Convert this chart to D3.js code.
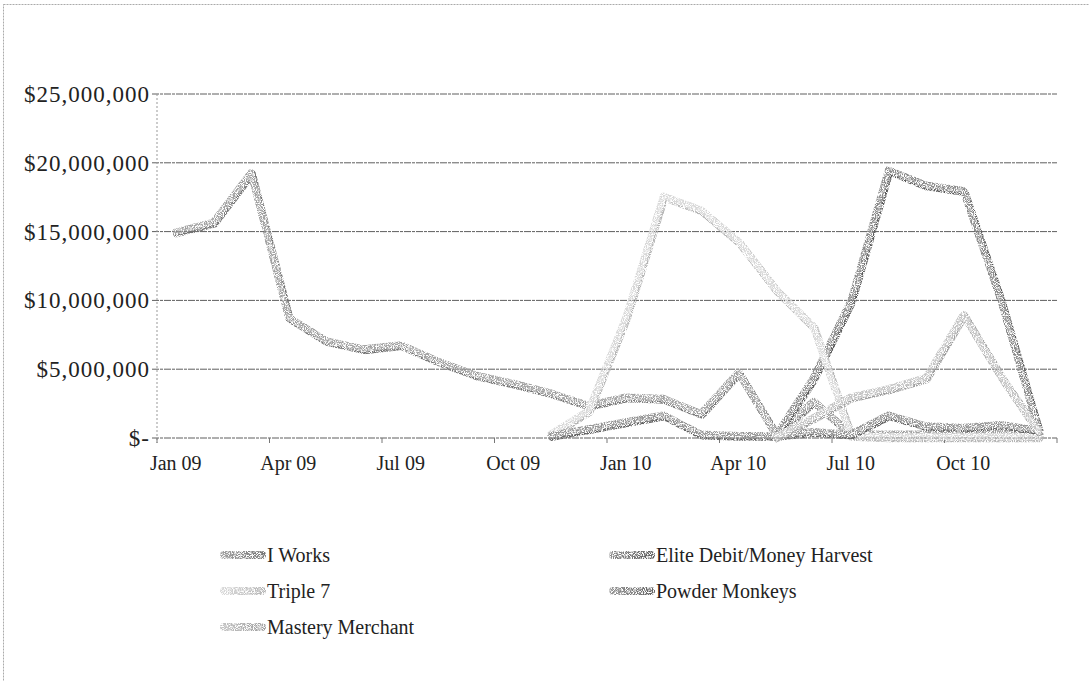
<!DOCTYPE html>
<html>
<head>
<meta charset="utf-8">
<script src="https://cdn.jsdelivr.net/npm/d3@7"></script>
<style>
  body { margin: 0; background: #fff; }
  svg { display: block; }
  text { font-family: "Liberation Serif", "DejaVu Serif", serif; fill: #222; }
</style>
</head>
<body>
<svg id="chart"></svg>
<script>
// months on the category axis
var months = ["Jan 09","Feb 09","Mar 09","Apr 09","May 09","Jun 09","Jul 09","Aug 09","Sep 09","Oct 09","Nov 09","Dec 09",
              "Jan 10","Feb 10","Mar 10","Apr 10","May 10","Jun 10","Jul 10","Aug 10","Sep 10","Oct 10","Nov 10","Dec 10"];
var tickLabels = ["Jan 09","Apr 09","Jul 09","Oct 09","Jan 10","Apr 10","Jul 10","Oct 10"];
var yTicks = [0, 5000000, 10000000, 15000000, 20000000, 25000000];

// values in millions, null = no data
var iWorks      = [15.0,15.7,19.3,8.8,7.1,6.5,6.8,5.6,4.6,4.0,3.3,2.4, 3.0,2.9,1.8,4.8,0.3,2.7,0.3,0.3,0.3,0.4,0.4,0.3];
var eliteDebit  = [null,null,null,null,null,null,null,null,null,null,null,null, null,null,null,null,0.2,4.4,10.0,19.5,18.4,18.0,10.0,0.6];
var triple7     = [null,null,null,null,null,null,null,null,null,null,0.3,2.0, 8.8,17.6,16.6,14.3,10.8,8.1,0.2,0.1,0.1,0.1,0.1,0.1];
var powderMonk  = [null,null,null,null,null,null,null,null,null,null,0.2,0.7, 1.2,1.7,0.3,0.2,0.2,0.5,0.3,1.7,0.9,0.8,1.0,0.6];
var mastery     = [null,null,null,null,null,null,null,null,null,null,null,null, null,null,null,null,0.1,1.5,3.0,3.6,4.4,9.0,4.5,0.5];

var seriesNames  = ["I Works","Elite Debit/Money Harvest","Triple 7","Powder Monkeys","Mastery Merchant"];
var seriesValues = [iWorks, eliteDebit, triple7, powderMonk, mastery];
var seriesFill   = ["#a2a2a2","#8c8c8c","#d8d8d8","#959595","#c4c4c4"];
var seriesEdge   = ["#737373","#585858","#b4b4b4","#626262","#9e9e9e"];

var width = 1089, height = 681;
var svg = d3.select("#chart").attr("width", width).attr("height", height);

var defs = svg.append("defs");
var f = defs.append("filter").attr("id", "grain")
  .attr("x", "-5%").attr("y", "-5%").attr("width", "110%").attr("height", "110%");
f.append("feTurbulence").attr("type", "fractalNoise").attr("baseFrequency", 1.1)
  .attr("numOctaves", 1).attr("seed", 4).attr("result", "noise");
f.append("feColorMatrix").attr("in", "noise").attr("type", "matrix")
  .attr("values", "0 0 0 0 0  0 0 0 0 0  0 0 0 0 0  0 0 0 5 -1.9").attr("result", "mask");
f.append("feComposite").attr("in", "SourceGraphic").attr("in2", "mask").attr("operator", "in");

// faint frame of the scanned chart
svg.append("rect").attr("x", 3.5).attr("y", 4.5).attr("width", 1200).attr("height", 800)
  .attr("fill", "none").attr("stroke", "#aaa").attr("stroke-dasharray", "2,1");

var x = d3.scaleBand().domain(months).range([157, 1057]);
var y = d3.scaleLinear().domain([0, 25000000]).range([438, 94]);
var cx = function (m) { return x(m) + x.bandwidth() / 2; };

// grid lines
svg.append("g").selectAll("line").data(yTicks).enter().append("line")
  .attr("x1", 152).attr("x2", 1057)
  .attr("y1", function (d) { return y(d); }).attr("y2", function (d) { return y(d); })
  .attr("stroke", "#5e5e5e").attr("stroke-width", 1).attr("stroke-dasharray", "7,1,3,1");

// y axis line
svg.append("line").attr("x1", 157).attr("x2", 157).attr("y1", 94).attr("y2", 443)
  .attr("stroke", "#999").attr("stroke-dasharray", "2,2");

// y labels
var fmt = d3.format(",");
svg.append("g").selectAll("text").data(yTicks).enter().append("text")
  .attr("x", 150).attr("y", function (d) { return y(d); })
  .attr("dy", "0.35em").attr("text-anchor", "end")
  .style("font-size", "23px").style("letter-spacing", "1px")
  .text(function (d) { return d === 0 ? "$-" : "$" + fmt(d); });

// x ticks every 3 months
var tickMonths = months.filter(function (m, i) { return i % 3 === 0; });
svg.append("g").selectAll("line").data(tickMonths.concat(["end"])).enter().append("line")
  .attr("x1", function (m) { return m === "end" ? 1057 : x(m); })
  .attr("x2", function (m) { return m === "end" ? 1057 : x(m); })
  .attr("y1", 438).attr("y2", 443).attr("stroke", "#777");

// x labels
svg.append("g").selectAll("text").data(tickLabels).enter().append("text")
  .attr("x", function (m) { return cx(m); }).attr("y", 470)
  .attr("text-anchor", "middle")
  .style("font-size", "20px")
  .text(function (m) { return m; });

// lines
var line = d3.line()
  .defined(function (d) { return d != null; })
  .x(function (d, i) { return cx(months[i]); })
  .y(function (d) { return y(d * 1000000); });

var lines = svg.append("g").attr("filter", "url(#grain)");
seriesValues.forEach(function (vals, k) {
  lines.append("path").datum(vals)
    .attr("d", line).attr("fill", "none")
    .attr("transform", "translate(1.2,1.6)")
    .attr("stroke", seriesEdge[k]).attr("stroke-width", 8)
    .attr("stroke-linejoin", "round").attr("stroke-linecap", "round");
  lines.append("path").datum(vals)
    .attr("d", line).attr("fill", "none")
    .attr("stroke", seriesFill[k]).attr("stroke-width", 6.5)
    .attr("stroke-linejoin", "round").attr("stroke-linecap", "round");
});

// legend
var legendPos = [[220, 555], [609, 555], [220, 591], [609, 591], [220, 627]];
var legend = svg.append("g");
seriesNames.forEach(function (name, k) {
  var p = legendPos[k];
  var gid = "lg" + k;
  var grad = defs.append("linearGradient").attr("id", gid);
  grad.append("stop").attr("offset", "0%").attr("stop-color", seriesFill[k]);
  grad.append("stop").attr("offset", "100%").attr("stop-color", seriesEdge[k]);
  legend.append("rect").attr("x", p[0]).attr("y", p[1] - 4).attr("width", 46).attr("height", 8)
    .attr("rx", 4).attr("fill", "url(#" + gid + ")").attr("filter", "url(#grain)");
  legend.append("text").attr("x", p[0] + 47).attr("y", p[1]).attr("dy", "0.35em")
    .style("font-size", "20px").text(name);
});
</script>
</body>
</html>
